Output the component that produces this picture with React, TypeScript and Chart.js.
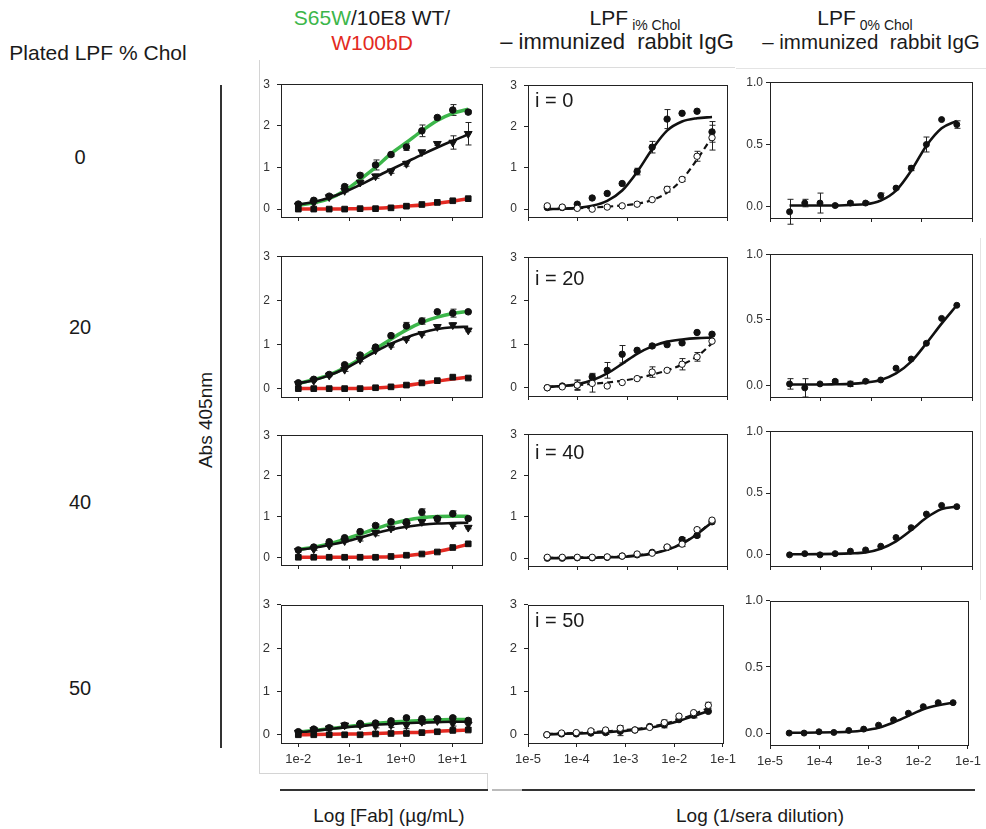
import React, { useEffect, useRef } from "react";
import { Chart, registerables } from "chart.js";
Chart.register(...registerables);

const FONT = "'Liberation Sans', Arial, Helvetica, sans-serif";

// ---------- x values ----------
const fabConc = [0.01, 0.02, 0.04, 0.08, 0.16, 0.32, 0.64, 1.28, 2.56, 5.12, 10.24, 20.48];
const seraDil = [2.44e-5, 4.88e-5, 9.77e-5, 1.95e-4, 3.91e-4, 7.81e-4, 1.56e-3, 3.13e-3, 6.25e-3, 1.25e-2, 2.5e-2, 5e-2];

// ---------- tick values / labels ----------
const fabTickValues = [0.01, 0.1, 1, 10];
const fabTickLabels = ["1e-2", "1e-1", "1e+0", "1e+1"];
const seraTickValues = [1e-5, 1e-4, 1e-3, 1e-2, 1e-1];
const seraTickLabels = ["1e-5", "1e-4", "1e-3", "1e-2", "1e-1"];
const abs3TickValues = [0, 1, 2, 3];
const abs3TickLabels = ["0", "1", "2", "3"];
const abs1TickValues = [0, 0.5, 1.0];
const abs1TickLabels = ["0.0", "0.5", "1.0"];

const rowLabels = ["0", "20", "40", "50"];
const iLabels = ["i = 0", "i = 20", "i = 40", "i = 50"];

// ---------- column 1: Fab binding (S65W green, 10E8 WT black, W100bD red) ----------
const s65w_c0 = [0.12, 0.21, 0.31, 0.54, 0.81, 1.06, 1.31, 1.49, 1.88, 2.2, 2.38, 2.33];
const s65w_c0_fit = [0.09, 0.15, 0.25, 0.44, 0.71, 1.0, 1.33, 1.6, 1.88, 2.13, 2.3, 2.4];
const s65w_c0_err = [0, 0.03, 0.03, 0.04, 0.05, 0.12, 0.04, 0.08, 0.14, 0.03, 0.13, 0.04];
const wt_c0 = [0.09, 0.15, 0.29, 0.44, 0.64, 0.79, 0.91, 1.09, 1.37, 1.57, 1.6, 1.81];
const wt_c0_fit = [0.11, 0.17, 0.27, 0.41, 0.58, 0.77, 0.95, 1.13, 1.31, 1.48, 1.64, 1.79];
const wt_c0_err = [0, 0.02, 0.03, 0.03, 0.04, 0.05, 0.05, 0.06, 0.04, 0.04, 0.16, 0.27];
const w100_c0 = [0.0, 0.0, 0.0, 0.0, 0.01, 0.01, 0.03, 0.07, 0.11, 0.16, 0.2, 0.25];
const w100_c0_fit = [0.0, 0.0, 0.0, 0.005, 0.01, 0.02, 0.04, 0.07, 0.1, 0.14, 0.19, 0.25];
const w100_c0_err = [0, 0, 0, 0, 0, 0, 0, 0, 0, 0, 0, 0];

const s65w_c20 = [0.13, 0.21, 0.32, 0.54, 0.76, 0.94, 1.2, 1.42, 1.53, 1.74, 1.71, 1.74];
const s65w_c20_fit = [0.12, 0.2, 0.31, 0.47, 0.67, 0.9, 1.12, 1.33, 1.5, 1.62, 1.7, 1.75];
const s65w_c20_err = [0, 0, 0, 0.03, 0.03, 0, 0.04, 0.08, 0.07, 0, 0.09, 0];
const wt_c20 = [0.11, 0.18, 0.3, 0.43, 0.65, 0.87, 0.98, 1.12, 1.24, 1.4, 1.44, 1.32];
const wt_c20_fit = [0.12, 0.19, 0.3, 0.45, 0.64, 0.84, 1.02, 1.16, 1.27, 1.35, 1.39, 1.4];
const wt_c20_err = [0, 0, 0, 0.04, 0.04, 0, 0.04, 0.03, 0.03, 0.05, 0.05, 0.03];
const w100_c20 = [0.0, 0.0, 0.0, 0.0, 0.0, 0.02, 0.04, 0.08, 0.13, 0.18, 0.26, 0.24];
const w100_c20_fit = [0, 0, 0, 0, 0.005, 0.015, 0.035, 0.07, 0.12, 0.17, 0.22, 0.26];
const w100_c20_err = [0, 0, 0, 0, 0, 0, 0, 0, 0, 0, 0, 0.03];

const s65w_c40 = [0.18, 0.25, 0.38, 0.48, 0.63, 0.78, 0.87, 0.87, 1.11, 0.95, 1.07, 0.95];
const s65w_c40_fit = [0.19, 0.25, 0.33, 0.44, 0.57, 0.7, 0.82, 0.91, 0.97, 1.0, 1.01, 1.01];
const s65w_c40_err = [0, 0.02, 0.02, 0.02, 0.04, 0.03, 0.04, 0.05, 0.08, 0.05, 0.07, 0.03];
const wt_c40 = [0.16, 0.2, 0.29, 0.4, 0.46, 0.6, 0.71, 0.79, 0.87, 0.93, 0.79, 0.73];
const wt_c40_fit = [0.18, 0.23, 0.3, 0.38, 0.48, 0.59, 0.68, 0.75, 0.8, 0.83, 0.84, 0.85];
const wt_c40_err = [0.03, 0.03, 0.02, 0.03, 0.06, 0.07, 0.05, 0.06, 0.04, 0.06, 0.03, 0.03];
const w100_c40 = [0, 0, 0, 0, 0, 0, 0.02, 0.05, 0.08, 0.13, 0.24, 0.33];
const w100_c40_fit = [0, 0, 0, 0, 0, 0.005, 0.015, 0.04, 0.08, 0.14, 0.22, 0.32];
const w100_c40_err = [0, 0, 0, 0, 0, 0, 0, 0, 0, 0, 0, 0];

const s65w_c50 = [0.07, 0.13, 0.16, 0.22, 0.26, 0.27, 0.32, 0.39, 0.37, 0.37, 0.39, 0.33];
const s65w_c50_fit = [0.06, 0.1, 0.14, 0.18, 0.22, 0.26, 0.29, 0.31, 0.33, 0.34, 0.35, 0.35];
const s65w_c50_err = [0.02, 0.02, 0.03, 0.03, 0.03, 0.03, 0.04, 0.03, 0.03, 0.02, 0.03, 0.04];
const wt_c50 = [0.05, 0.11, 0.15, 0.22, 0.22, 0.2, 0.22, 0.22, 0.3, 0.32, 0.26, 0.24];
const wt_c50_fit = [0.05, 0.09, 0.13, 0.17, 0.2, 0.23, 0.25, 0.27, 0.28, 0.29, 0.3, 0.3];
const wt_c50_err = [0.02, 0.03, 0.04, 0.04, 0.05, 0.04, 0.05, 0.08, 0.06, 0.03, 0.06, 0.07];
const w100_c50 = [0, 0, 0, 0, 0, 0.02, 0.03, 0.03, 0.05, 0.07, 0.1, 0.11];
const w100_c50_fit = [0, 0.005, 0.01, 0.015, 0.02, 0.03, 0.04, 0.05, 0.06, 0.08, 0.1, 0.11];
const w100_c50_err = [0.02, 0.02, 0.02, 0.02, 0.02, 0.02, 0.02, 0.02, 0.02, 0.02, 0.03, 0.02];

// ---------- column 2: LPF i% Chol immunized rabbit IgG (filled = LPF, open = control) ----------
const pos_c0 = [0.04, 0.04, 0.12, 0.27, 0.38, 0.62, 0.91, 1.5, 2.18, 2.32, 2.37, 1.87];
const pos_c0_fit = [0.0, 0.01, 0.03, 0.08, 0.2, 0.45, 0.9, 1.45, 1.9, 2.12, 2.2, 2.23];
const pos_c0_err = [0, 0, 0, 0, 0, 0, 0.08, 0.14, 0.23, 0, 0, 0.25];
const neg_c0 = [0.08, 0.05, 0.02, 0.0, 0.05, 0.08, 0.12, 0.23, 0.48, 0.72, 1.28, 1.73];
const neg_c0_fit = [0.0, 0.01, 0.02, 0.04, 0.06, 0.09, 0.13, 0.22, 0.4, 0.72, 1.2, 1.75];
const neg_c0_err = [0, 0, 0, 0, 0, 0, 0, 0, 0.07, 0.05, 0.12, 0.3];

const pos_c20 = [0.0, 0.04, 0.06, 0.25, 0.4, 0.77, 0.86, 0.96, 0.99, 1.03, 1.27, 1.23];
const pos_c20_fit = [0.02, 0.04, 0.08, 0.17, 0.33, 0.55, 0.78, 0.95, 1.06, 1.11, 1.14, 1.15];
const pos_c20_err = [0, 0, 0.12, 0.08, 0.18, 0.2, 0, 0.04, 0, 0, 0, 0];
const neg_c20 = [0.0, 0.02, 0.06, 0.1, 0.04, 0.12, 0.21, 0.36, 0.4, 0.54, 0.71, 1.07];
const neg_c20_fit = [0.02, 0.04, 0.06, 0.09, 0.12, 0.16, 0.22, 0.3, 0.4, 0.53, 0.72, 1.02];
const neg_c20_err = [0, 0, 0.1, 0.2, 0, 0, 0, 0.12, 0, 0.13, 0.1, 0];

const pos_c40 = [0.0, 0.0, 0.01, 0.01, 0.02, 0.05, 0.08, 0.14, 0.26, 0.45, 0.55, 0.88];
const pos_c40_fit = [0, 0, 0.01, 0.01, 0.02, 0.03, 0.06, 0.11, 0.2, 0.35, 0.58, 0.87];
const pos_c40_err = [0, 0, 0, 0, 0, 0, 0, 0, 0.03, 0.05, 0.04, 0];
const neg_c40 = [0.02, 0.02, 0.02, 0.02, 0.03, 0.05, 0.1, 0.12, 0.27, 0.34, 0.69, 0.92];
const neg_c40_fit = [0.01, 0.01, 0.02, 0.02, 0.03, 0.04, 0.07, 0.12, 0.21, 0.36, 0.59, 0.89];
const neg_c40_err = [0, 0, 0, 0, 0, 0, 0, 0, 0.03, 0.06, 0.04, 0];

const pos_c50 = [0.0, 0.02, 0.02, 0.04, 0.05, 0.08, 0.11, 0.19, 0.23, 0.35, 0.45, 0.54];
const pos_c50_fit = [0.01, 0.02, 0.03, 0.04, 0.06, 0.08, 0.11, 0.16, 0.23, 0.32, 0.43, 0.55];
const pos_c50_err = [0, 0, 0, 0, 0.04, 0.1, 0, 0, 0.07, 0, 0.06, 0];
const neg_c50 = [0.0, 0.04, 0.05, 0.09, 0.11, 0.15, 0.11, 0.17, 0.28, 0.43, 0.51, 0.68];
const neg_c50_fit = [0.02, 0.03, 0.04, 0.06, 0.08, 0.1, 0.13, 0.18, 0.25, 0.35, 0.47, 0.62];
const neg_c50_err = [0, 0, 0, 0.03, 0, 0.06, 0, 0, 0.06, 0, 0, 0.07];

// ---------- column 3: LPF 0% Chol immunized rabbit IgG ----------
const ctrl_c0 = [-0.04, 0.03, 0.03, 0.01, 0.03, 0.03, 0.09, 0.15, 0.31, 0.5, 0.7, 0.66];
const ctrl_c0_fit = [0.01, 0.01, 0.01, 0.01, 0.015, 0.02, 0.05, 0.13, 0.29, 0.49, 0.63, 0.69];
const ctrl_c0_err = [0.1, 0.03, 0.08, 0.01, 0.01, 0.01, 0.02, 0.01, 0.02, 0.06, 0, 0.03];
const ctrl_c20 = [0.01, -0.02, 0.01, 0.03, 0.01, 0.03, 0.04, 0.13, 0.2, 0.32, 0.51, 0.61];
const ctrl_c20_fit = [0.005, 0.005, 0.005, 0.007, 0.01, 0.02, 0.04, 0.09, 0.18, 0.32, 0.47, 0.61];
const ctrl_c20_err = [0.04, 0.07, 0, 0.01, 0.02, 0.01, 0, 0, 0, 0, 0, 0];
const ctrl_c40 = [0, 0.01, 0, 0.01, 0.03, 0.04, 0.07, 0.14, 0.22, 0.33, 0.4, 0.39];
const ctrl_c40_fit = [0.005, 0.005, 0.006, 0.008, 0.012, 0.02, 0.05, 0.11, 0.2, 0.3, 0.37, 0.39];
const ctrl_c40_err = [0, 0, 0, 0, 0, 0, 0, 0, 0, 0, 0, 0];
const ctrl_c50 = [0, 0, 0.01, 0.005, 0.02, 0.03, 0.06, 0.1, 0.15, 0.2, 0.23, 0.23];
const ctrl_c50_fit = [0.003, 0.003, 0.004, 0.006, 0.01, 0.02, 0.04, 0.08, 0.13, 0.18, 0.21, 0.23];
const ctrl_c50_err = [0, 0, 0, 0, 0, 0, 0, 0, 0, 0, 0, 0];

// ---------- styles / layout ----------
const GREEN = "#3cb64a";
const RED = "#e32a22";
const INK = "#111";
const Y_AXIS_W = 40;
const PAD_TOP = 10;
const PAD_RIGHT = 14;
const X_AXIS_H = 28;

const COL_X = [
  [281, 482],
  [528, 727],
  [770, 972],
];
const COL_ROWS = [
  [[80, 217], [252, 397], [431, 565], [600, 743]],
  [[81, 217], [253, 396], [430, 566], [600, 743]],
  [[82, 218], [254, 397], [431, 566], [600, 745]],
];

const pts = (xs: number[], ys: number[]) => xs.map((x, i) => ({ x, y: ys[i] }));

const fitLine = (xs: number[], ys: number[], color: string, width: number, dash: number[] = []) => ({
  data: pts(xs, ys),
  showLine: true,
  borderColor: color,
  backgroundColor: color,
  borderWidth: width,
  borderDash: dash,
  pointRadius: 0,
  cubicInterpolationMode: "monotone",
  order: 3,
});

const marks = (xs: number[], ys: number[], errs: number[], style: string, radius: number, fill: string, rotation = 0) => ({
  data: pts(xs, ys),
  showLine: false,
  pointStyle: style,
  pointRadius: radius,
  pointRotation: rotation,
  pointBackgroundColor: fill,
  pointBorderColor: INK,
  pointBorderWidth: 1,
  errors: errs,
  order: 1,
});

const fabSets = (s: number[], sf: number[], se: number[], w: number[], wf: number[], we: number[], r: number[], rf: number[], re: number[]) => [
  fitLine(fabConc, rf, RED, 3.5),
  fitLine(fabConc, wf, INK, 2.6),
  fitLine(fabConc, sf, GREEN, 3.5),
  marks(fabConc, r, re, "rect", 4, INK),
  marks(fabConc, w, we, "triangle", 4.5, INK, 180),
  marks(fabConc, s, se, "circle", 3.3, INK),
];

const seraSets = (p: number[], pf: number[], pe: number[], n: number[], nf: number[], ne: number[]) => [
  fitLine(seraDil, nf, INK, 2.2, [6, 4]),
  fitLine(seraDil, pf, INK, 2.6),
  marks(seraDil, n, ne, "circle", 3.2, "#fff"),
  marks(seraDil, p, pe, "circle", 3.2, INK),
];

const ctrlSets = (c: number[], cf: number[], ce: number[]) => [
  fitLine(seraDil, cf, INK, 2.6),
  marks(seraDil, c, ce, "circle", 3, INK),
];

const col1Sets = [
  fabSets(s65w_c0, s65w_c0_fit, s65w_c0_err, wt_c0, wt_c0_fit, wt_c0_err, w100_c0, w100_c0_fit, w100_c0_err),
  fabSets(s65w_c20, s65w_c20_fit, s65w_c20_err, wt_c20, wt_c20_fit, wt_c20_err, w100_c20, w100_c20_fit, w100_c20_err),
  fabSets(s65w_c40, s65w_c40_fit, s65w_c40_err, wt_c40, wt_c40_fit, wt_c40_err, w100_c40, w100_c40_fit, w100_c40_err),
  fabSets(s65w_c50, s65w_c50_fit, s65w_c50_err, wt_c50, wt_c50_fit, wt_c50_err, w100_c50, w100_c50_fit, w100_c50_err),
];
const col2Sets = [
  seraSets(pos_c0, pos_c0_fit, pos_c0_err, neg_c0, neg_c0_fit, neg_c0_err),
  seraSets(pos_c20, pos_c20_fit, pos_c20_err, neg_c20, neg_c20_fit, neg_c20_err),
  seraSets(pos_c40, pos_c40_fit, pos_c40_err, neg_c40, neg_c40_fit, neg_c40_err),
  seraSets(pos_c50, pos_c50_fit, pos_c50_err, neg_c50, neg_c50_fit, neg_c50_err),
];
const col3Sets = [
  ctrlSets(ctrl_c0, ctrl_c0_fit, ctrl_c0_err),
  ctrlSets(ctrl_c20, ctrl_c20_fit, ctrl_c20_err),
  ctrlSets(ctrl_c40, ctrl_c40_fit, ctrl_c40_err),
  ctrlSets(ctrl_c50, ctrl_c50_fit, ctrl_c50_err),
];

type Panel = {
  key: string;
  col: number;
  row: number;
  left: number;
  right: number;
  top: number;
  bottom: number;
  datasets: any[];
};

const PANELS: Panel[] = [];
[col1Sets, col2Sets, col3Sets].forEach((sets, col) => {
  sets.forEach((ds, row) => {
    PANELS.push({
      key: `p${col}${row}`,
      col,
      row,
      left: COL_X[col][0],
      right: COL_X[col][1],
      top: COL_ROWS[col][row][0],
      bottom: COL_ROWS[col][row][1],
      datasets: ds,
    });
  });
});

const errorBarPlugin = {
  id: "errorBars",
  beforeDatasetsDraw(chart: any) {
    const ctx = chart.ctx;
    const y = chart.scales.y;
    chart.data.datasets.forEach((ds: any, di: number) => {
      const errs: number[] | undefined = ds.errors;
      if (!errs) return;
      const meta = chart.getDatasetMeta(di);
      ctx.save();
      ctx.strokeStyle = "#222";
      ctx.lineWidth = 1;
      meta.data.forEach((el: any, i: number) => {
        const e = errs[i];
        if (!e) return;
        const v = ds.data[i].y;
        const yt = y.getPixelForValue(v + e);
        const yb = y.getPixelForValue(v - e);
        const x = Math.round(el.x) + 0.5;
        ctx.beginPath();
        ctx.moveTo(x, yt);
        ctx.lineTo(x, yb);
        ctx.moveTo(x - 3, yt);
        ctx.lineTo(x + 3, yt);
        ctx.moveTo(x - 3, yb);
        ctx.lineTo(x + 3, yb);
        ctx.stroke();
      });
      ctx.restore();
    });
  },
};

const framePlugin = {
  id: "frame",
  beforeDatasetsDraw(chart: any) {
    const { ctx, chartArea } = chart;
    ctx.save();
    ctx.strokeStyle = "#222";
    ctx.lineWidth = 1;
    ctx.strokeRect(
      Math.round(chartArea.left) + 0.5,
      Math.round(chartArea.top) + 0.5,
      Math.round(chartArea.right - chartArea.left),
      Math.round(chartArea.bottom - chartArea.top)
    );
    ctx.restore();
  },
};

function buildConfig(p: Panel): any {
  const isFab = p.col === 0;
  const isAbs1 = p.col === 2;
  const xVals = isFab ? fabTickValues : seraTickValues;
  const xLabels = isFab ? fabTickLabels : seraTickLabels;
  const yVals = isAbs1 ? abs1TickValues : abs3TickValues;
  const yLabels = isAbs1 ? abs1TickLabels : abs3TickLabels;
  const showX = p.row === 3;
  return {
    type: "scatter",
    data: { datasets: p.datasets },
    options: {
      animation: false,
      responsive: false,
      maintainAspectRatio: false,
      events: [],
      layout: { padding: { top: PAD_TOP, right: PAD_RIGHT, left: 0, bottom: 0 } },
      plugins: { legend: { display: false }, tooltip: { enabled: false } },
      scales: {
        x: {
          type: "logarithmic",
          min: isFab ? 0.0046 : 1e-5,
          max: isFab ? 38 : 0.1,
          afterBuildTicks: (s: any) => {
            s.ticks = xVals.map((v) => ({ value: v }));
          },
          afterFit: (s: any) => {
            s.height = X_AXIS_H;
          },
          ticks: {
            autoSkip: false,
            maxRotation: 0,
            minRotation: 0,
            padding: 5,
            color: "#333",
            font: { family: FONT, size: 13 },
            callback: (_v: any, i: number) => (showX ? xLabels[i] : ""),
          },
          grid: { display: true, drawOnChartArea: false, drawTicks: true, tickLength: 4, color: "#222" },
          border: { display: false },
        },
        y: {
          type: "linear",
          min: isAbs1 ? -0.09 : -0.19,
          max: isAbs1 ? 1.0 : 3,
          afterBuildTicks: (s: any) => {
            s.ticks = yVals.map((v) => ({ value: v }));
          },
          afterFit: (s: any) => {
            s.width = Y_AXIS_W;
          },
          ticks: {
            autoSkip: false,
            padding: isAbs1 ? 3 : 7,
            color: "#333",
            font: { family: FONT, size: p.row === 3 ? 13 : 12 },
            callback: (_v: any, i: number) => yLabels[i],
          },
          grid: { display: true, drawOnChartArea: false, drawTicks: true, tickLength: 4, color: "#222" },
          border: { display: false },
        },
      },
    },
    plugins: [framePlugin, errorBarPlugin],
  };
}

const txt = (x: number, y: number, content: React.ReactNode, size: number, extra: React.CSSProperties = {}) => (
  <div
    style={{
      position: "absolute",
      left: x,
      top: y,
      transform: "translate(-50%, -50%)",
      fontSize: size,
      lineHeight: 1,
      whiteSpace: "pre",
      color: "#1a1a1a",
      ...extra,
    }}
  >
    {content}
  </div>
);

const line = (x: number, y: number, w: number, h: number, color: string) => (
  <div style={{ position: "absolute", left: x, top: y, width: w, height: h, background: color }} />
);

export default function App() {
  const refs = useRef<(HTMLCanvasElement | null)[]>([]);
  useEffect(() => {
    const charts = PANELS.map((p, i) => new Chart(refs.current[i] as HTMLCanvasElement, buildConfig(p)));
    return () => charts.forEach((c) => c.destroy());
  }, []);

  const rowCenters = [157, 327, 502, 688];
  const iTops = [90, 268, 442, 610];
  const subStyle: React.CSSProperties = { fontSize: 14, position: "relative", top: 5, marginLeft: 4 };

  return (
    <div
      style={{
        position: "absolute",
        left: 0,
        top: 0,
        width: 986,
        height: 829,
        background: "#fff",
        fontFamily: FONT,
        overflow: "hidden",
      }}
    >
      {/* faint composite frame lines */}
      {line(259, 60, 1, 713, "#d4d4d4")}
      {line(259, 773, 229, 1, "#d4d4d4")}
      {line(487, 773, 1, 17, "#d4d4d4")}
      {line(490, 67, 245, 1, "#dcdcdc")}
      {line(736, 68, 250, 1, "#e4e4e4")}
      {line(980, 238, 1, 362, "#e4e4e4")}

      {/* black guide lines */}
      {line(220, 85, 2, 663, "#333")}
      {line(280, 789, 208, 2, "#333")}
      {line(492, 789, 30, 2, "#bbb")}
      {line(522, 789, 453, 2, "#333")}

      {txt(98, 52, "Plated LPF % Chol", 21)}
      {rowLabels.map((r, i) => (
        <React.Fragment key={r}>{txt(80, rowCenters[i], r, 20)}</React.Fragment>
      ))}
      {txt(205, 420, "Abs 405nm", 19, { transform: "translate(-50%, -50%) rotate(-90deg)" })}

      {txt(372, 17, <><span style={{ color: GREEN }}>S65W</span>/10E8 WT/</>, 21)}
      {txt(372, 42, <span style={{ color: RED }}>W100bD</span>, 21)}

      {txt(635, 17, <>LPF<span style={subStyle}>i% Chol</span></>, 21)}
      {txt(617, 42, "– immunized  rabbit IgG", 22)}
      {txt(865, 17, <>LPF<span style={subStyle}>0% Chol</span></>, 21)}
      {txt(871, 42, "– immunized  rabbit IgG", 20.5)}

      {txt(389, 815, "Log [Fab] (µg/mL)", 19)}
      {txt(760, 815, "Log (1/sera dilution)", 19)}

      {PANELS.map((p, i) => {
        const w = p.right - p.left + Y_AXIS_W + PAD_RIGHT;
        const h = p.bottom - p.top + PAD_TOP + X_AXIS_H;
        return (
          <canvas
            key={p.key}
            ref={(el) => {
              refs.current[i] = el;
            }}
            width={w}
            height={h}
            style={{ position: "absolute", left: p.left - Y_AXIS_W, top: p.top - PAD_TOP, width: w, height: h }}
          />
        );
      })}

      {iLabels.map((t, i) => (
        <div
          key={t}
          style={{ position: "absolute", left: 535, top: iTops[i], fontSize: 20, lineHeight: 1, whiteSpace: "pre", color: "#1a1a1a" }}
        >
          {t}
        </div>
      ))}
    </div>
  );
}
